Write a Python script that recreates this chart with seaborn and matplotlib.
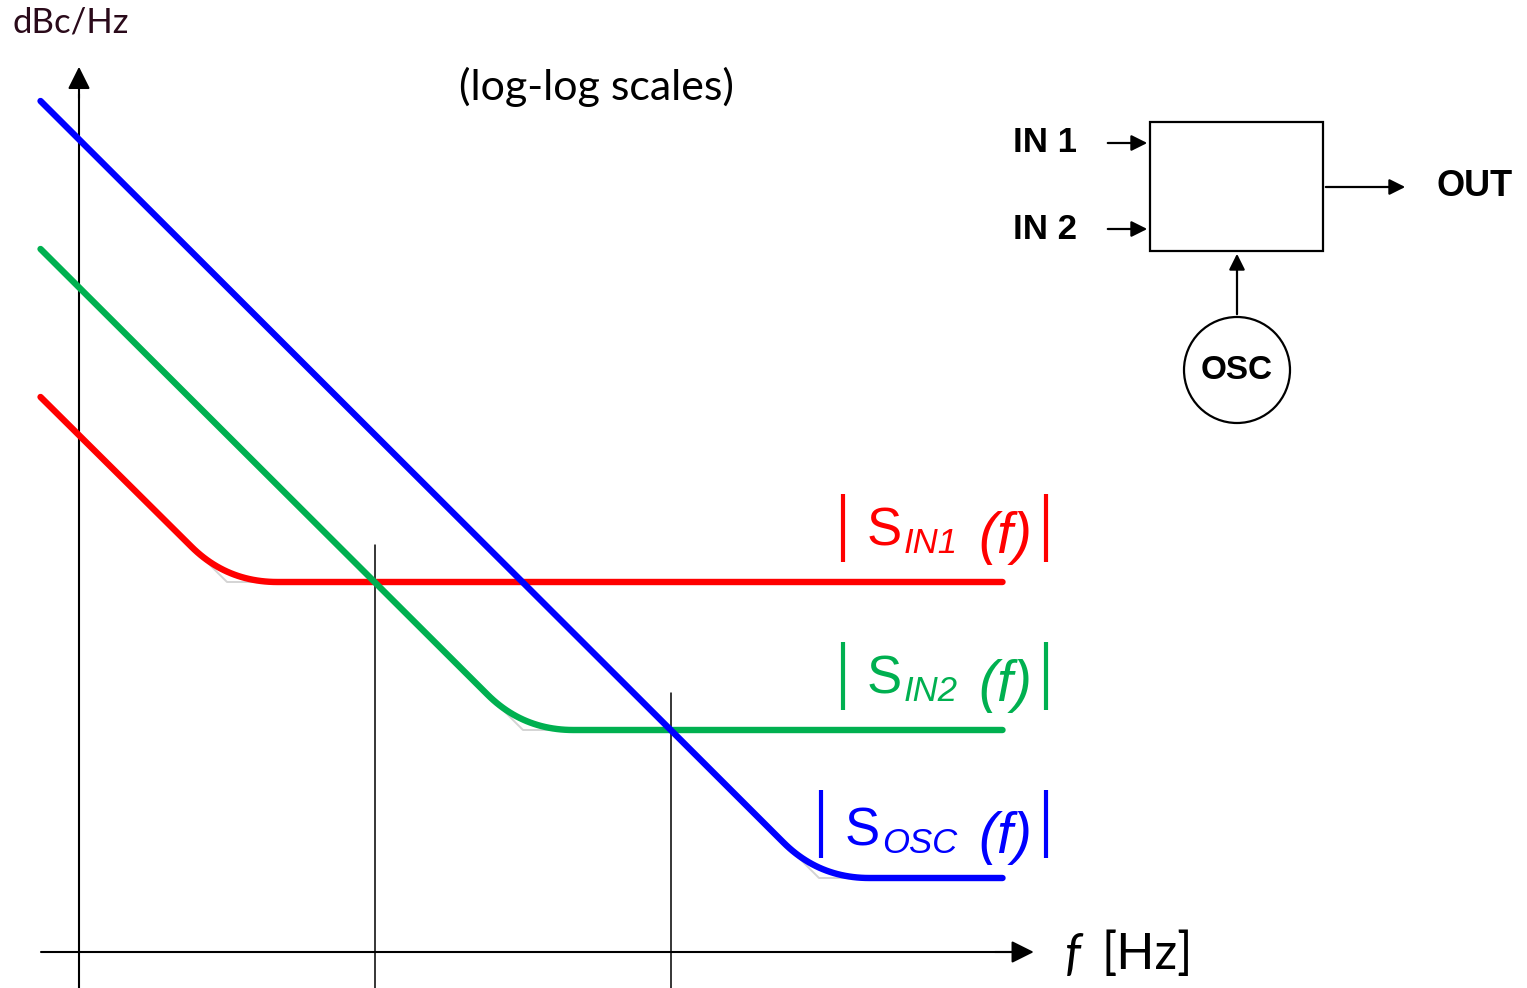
import numpy as np
import pandas as pd
import seaborn as sns
import matplotlib.pyplot as plt
from matplotlib.patches import Rectangle, Circle

# Schematic phase-noise spectra (log-log): x in decades of f, y in dB
series = ["IN1", "IN2", "OSC"]
colors = ["#ff0000", "#00b050", "#0000ff"]
f_start = -0.26          # decade where curves start
f_end = 6.24             # decade where curves end
start_db = [75, 95, 115]  # level at f_start
corner_dec = [1, 3, 5]    # decade of the corner
floor_db = [50, 30, 10]   # flat floor level

# thin vertical markers at the crossing frequencies
marker_dec = [2, 4]
marker_top_db = [55, 35]

# axis extents
x_axis_end = 6.47
y_axis_end = 120

sns.set_theme(style="white")
plt.rcParams["font.family"] = ["Liberation Sans", "DejaVu Sans"]
plt.rcParams["text.color"] = "black"

fig = plt.figure(figsize=(15.27, 9.88), dpi=100)
ax = fig.add_axes([0, 0, 1, 1])
ax.set_xlim(-79 / 148, (1527 - 79) / 148)
ax.set_ylim(-(988 - 952) / 7.4, 952 / 7.4)
ax.axis("off")


def rounded(xs, ys, r_slope=0.24, r_flat=0.34, n=25):
    # sharp corner at index 1 replaced by a quadratic bezier
    x0, x1, x2 = xs
    y0, y1, y2 = ys
    k = (y1 - y0) / (x1 - x0)
    a = np.array([x1 - r_slope, y1 - k * r_slope])
    c = np.array([x1 + r_flat, y1])
    b = np.array([x1, y1])
    t = np.linspace(0, 1, n)[:, None]
    bez = (1 - t) ** 2 * a + 2 * (1 - t) * t * b + t ** 2 * c
    px = np.concatenate([[x0], bez[:, 0], [x2]])
    py = np.concatenate([[y0], bez[:, 1], [y2]])
    return px, py


rows = []
for name, s, c, fl in zip(series, start_db, corner_dec, floor_db):
    xs = [f_start, c, f_end]
    ys = [s, fl, fl]
    # faint sharp corner underneath
    ax.plot(xs, ys, color="#d4d4d4", lw=1.4, zorder=1)
    px, py = rounded(xs, ys)
    for i, (a, b) in enumerate(zip(px, py)):
        rows.append({"series": name, "order": i, "logf": a, "db": b})
df = pd.DataFrame(rows)

sns.lineplot(data=df, x="logf", y="db", hue="series", units="series",
             estimator=None, sort=False, palette=dict(zip(series, colors)),
             linewidth=4.6, solid_capstyle="round", legend=False, ax=ax, zorder=3)

# axes with arrowheads
ax.plot([0, 0], [-4.865, y_axis_end - 4], color="black", lw=1.5, zorder=2)
ax.annotate("", xy=(0, y_axis_end), xytext=(0, y_axis_end - 5),
            arrowprops=dict(arrowstyle="-|>", color="black", lw=1.5, mutation_scale=34))
ax.plot([f_start, x_axis_end - 0.1], [0, 0], color="black", lw=1.5, zorder=2)
ax.annotate("", xy=(x_axis_end, 0), xytext=(x_axis_end - 0.3, 0),
            arrowprops=dict(arrowstyle="-|>", color="black", lw=1.5, mutation_scale=34))

for d, top in zip(marker_dec, marker_top_db):
    ax.plot([d, d], [-4.865, top], color="black", lw=1.1, zorder=2)

# overlay in pixel coordinates for labels and block diagram
ov = fig.add_axes([0, 0, 1, 1])
ov.set_xlim(0, 1527)
ov.set_ylim(988, 0)
ov.axis("off")
ov.patch.set_alpha(0)

humanist = ["Lato", "DejaVu Sans"]
ov.text(12, 22, "dBc/Hz", fontsize=25, family=humanist, color="#2a0a1a",
        ha="left", va="center")
ov.text(596, 87, "(log-log scales)", fontsize=31, family=humanist,
        ha="center", va="center")
ov.text(1065, 955, "f", fontsize=36, style="italic", family=humanist,
        ha="left", va="center")
ov.text(1101, 955, "[Hz]", fontsize=36, family=humanist,
        ha="left", va="center")

# legend labels |S_x (f)|
lab = [("IN1", 843, 545, 528), ("IN2", 843, 693, 676), ("OSC", 821, 845, 824)]
for (sub, bar_x, base, mid), col in zip(lab, colors):
    ov.plot([bar_x, bar_x], [mid - 34, mid + 34], color=col, lw=3, solid_capstyle="butt")
    ov.plot([1046, 1046], [mid - 34, mid + 34], color=col, lw=3, solid_capstyle="butt")
    sx = bar_x + 24
    ov.text(sx, base, "S", fontsize=38, color=col, ha="left", va="baseline")
    ov.text(sx + 37, base + 8, sub, fontsize=25, style="italic", color=col,
            ha="left", va="baseline")
    ov.text(978, base + 8, "(f)", fontsize=41, style="italic", color=col,
            ha="left", va="baseline")

# block diagram
ov.add_patch(Rectangle((1150, 122), 173, 129, fill=False, ec="black", lw=1.6))
ov.add_patch(Circle((1237, 370), 53, fill=False, ec="black", lw=1.6))
arrow = dict(arrowstyle="-|>", color="black", lw=1.6, mutation_scale=24)
for y, t in [(143, "IN 1"), (229, "IN 2")]:
    ov.annotate("", xy=(1150, y), xytext=(1105, y), arrowprops=arrow)
    ov.text(1013, y, t, fontsize=25, weight="bold", color="black", ha="left", va="center")
ov.annotate("", xy=(1408, 187), xytext=(1323, 187), arrowprops=arrow)
ov.text(1437, 187, "OUT", fontsize=26, weight="bold", color="black", ha="left", va="center")
ov.annotate("", xy=(1237, 251), xytext=(1237, 317), arrowprops=arrow)
ov.text(1237, 370, "OSC", fontsize=24, weight="bold", color="black", ha="center", va="center")

fig.savefig("out.png", dpi=100)
